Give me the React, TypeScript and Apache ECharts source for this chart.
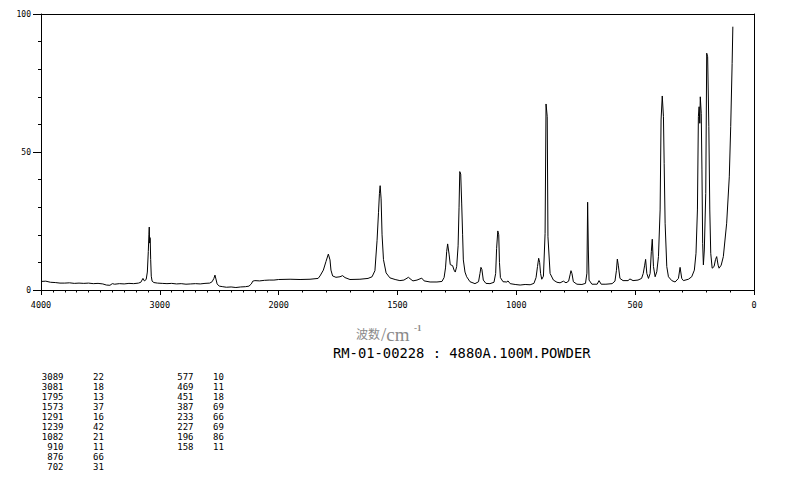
import React, { useEffect, useRef } from 'react';
import * as echarts from 'echarts';

// Spectrum, 4000–2000 cm-1 (compressed half of the axis)
const wnHigh = [4000, 3960, 3920, 3880, 3840, 3800, 3760, 3720, 3680, 3640, 3600, 3560, 3520, 3480, 3450, 3420, 3400, 3380, 3340, 3300, 3260, 3220, 3180, 3160, 3142, 3130, 3115, 3105, 3097, 3092, 3089, 3086, 3083, 3081, 3077, 3072, 3065, 3050, 3020, 2980, 2940, 2900, 2860, 2820, 2780, 2740, 2700, 2660, 2620, 2580, 2560, 2545, 2536, 2528, 2518, 2500, 2470, 2440, 2400, 2360, 2320, 2280, 2250, 2230, 2218, 2200, 2160, 2120, 2080, 2040, 2000];
const intHigh = [3.1, 3.2, 2.8, 2.7, 2.5, 2.5, 2.6, 2.4, 2.5, 2.4, 2.5, 2.3, 2.4, 2.2, 1.8, 1.7, 2.3, 2.1, 2.3, 2.2, 2.4, 2.3, 2.5, 2.8, 4.2, 3.3, 3.8, 6.5, 14, 20, 22.8, 17, 19, 18.5, 11, 5, 3.2, 2.7, 2.5, 2.4, 2.3, 2.4, 2.2, 2.3, 2.1, 2.2, 2.3, 2.2, 2.4, 2.5, 3.0, 4.2, 5.4, 4.0, 2.2, 1.4, 1.2, 1.0, 1.1, 0.9, 1.1, 1.2, 1.4, 2.2, 3.2, 3.4, 3.3, 3.5, 3.6, 3.6, 3.8];

// Spectrum, 2000–0 cm-1
const wnLow = [2000, 1952, 1910, 1868, 1834, 1826, 1812, 1801, 1791, 1784, 1780, 1773, 1759, 1742, 1731, 1721, 1700, 1658, 1624, 1607, 1595, 1586, 1580, 1576, 1573, 1569, 1565, 1559, 1548, 1532, 1510, 1490, 1473, 1454, 1443, 1435, 1418, 1398, 1388, 1363, 1334, 1313, 1304, 1298, 1293, 1289, 1283, 1278, 1268, 1262, 1257, 1251, 1245, 1241, 1238, 1234, 1230, 1226, 1223, 1216, 1209, 1195, 1174, 1159, 1153, 1149, 1145, 1139, 1128, 1111, 1094, 1087, 1083, 1078, 1074, 1071, 1067, 1056, 1040, 1035, 1026, 1005, 984, 963, 942, 926, 917, 911, 906, 902, 898, 893, 886, 879, 875, 870, 867, 858, 844, 829, 816, 802, 791, 780, 774, 770, 766, 760, 745, 724, 709, 703, 700, 697, 694, 682, 660, 652, 643, 623, 597, 585, 579, 575, 571, 564, 551, 530, 522, 509, 488, 473, 466, 460, 456, 451, 444, 437, 432, 428, 423, 416, 409, 402, 395, 391, 386, 381, 378, 374, 367, 360, 346, 332, 318, 311, 304, 297, 276, 262, 251, 244, 238, 234, 231, 228, 226, 222, 219, 216, 213, 209, 203, 199, 195, 190, 186, 182, 176, 168, 162, 157, 151, 147, 138, 129, 115, 104, 98, 92, 89];
const intLow = [3.8, 3.9, 3.8, 3.9, 4.2, 5.1, 7.2, 10.3, 13, 10.9, 7.2, 5.1, 4.6, 4.8, 5.2, 4.5, 3.8, 3.9, 4.2, 4.8, 7, 18, 28, 35, 37.8, 33, 20, 11, 6.2, 4.4, 3.8, 3.4, 3.6, 4.6, 3.8, 3.3, 3.6, 4.3, 3.3, 2.9, 2.9, 3.1, 4.5, 8, 14, 16.7, 13, 9.2, 8.8, 7.2, 6.5, 8.5, 16, 30, 42.9, 42, 31.5, 20, 10.9, 6.5, 4.8, 3, 2.3, 3, 6, 8.2, 7.5, 3.6, 2.4, 2.3, 2.8, 6, 15, 21.4, 20, 10, 4.5, 3, 2.9, 3.3, 2.3, 2.0, 1.8, 2.0, 1.9, 2.4, 4.5, 8.5, 11.5, 10, 6, 3.9, 5.0, 20.5, 67.4, 62.8, 19.3, 6, 3.6, 2.8, 2.6, 3.2, 2.6, 3.2, 5.5, 7, 6, 3, 2.1, 2.0, 2.4, 6.1, 31.8, 14.5, 3.6, 2.1, 2.1, 3.4, 2.1, 2.1, 2.3, 3.2, 7, 11.2, 9, 4.2, 3.4, 3.4, 4, 3.4, 3.6, 4.2, 6, 9, 11.1, 6, 4.2, 6, 14, 18.4, 8.5, 4.8, 6.6, 12.1, 29, 61.6, 70.3, 62.8, 45.9, 24.2, 8.5, 4.8, 3.4, 2.9, 4.2, 8.2, 4.2, 3.4, 3.9, 4.8, 7.2, 13.3, 29, 62.8, 66.4, 60.4, 70, 64, 43.5, 16.9, 9.1, 14.5, 35, 85.8, 84.5, 59.2, 29, 13.3, 7.9, 8.5, 11, 12.1, 9, 7.9, 9, 12.1, 24.2, 41, 59.2, 82.1, 95.4];

// Peak table
const peakWnA = [3089, 3081, 1795, 1573, 1291, 1239, 1082, 910, 876, 702];
const peakIntA = [22, 18, 13, 37, 16, 42, 21, 11, 66, 31];
const peakWnB = [577, 469, 451, 387, 233, 227, 196, 158];
const peakIntB = [10, 11, 18, 69, 66, 69, 86, 11];

const axisTitleCJK = '波数';
const axisTitleUnit = '/cm';
const axisTitleExp = '-1';
const sampleLabel = 'RM-01-00228 : 4880A.100M.POWDER';

const MONO = '"DejaVu Sans Mono", monospace';

export default function App() {
  const ref = useRef<HTMLDivElement>(null);
  useEffect(() => {
    const chart = echarts.init(ref.current!, null, { renderer: 'svg' });
    const black = '#000';
    const grey = '#8a8a8a';
    const baseX = (gridIndex: number, min: number, max: number, interval: number, split: number, hideMin: boolean) => ({
      type: 'value', gridIndex, min, max, interval, inverse: true, position: 'bottom',
      axisLine: { show: true, onZero: false, lineStyle: { color: black, width: 1 } },
      axisTick: { show: true, inside: false, length: 5, lineStyle: { color: black, width: 1 } },
      minorTick: { show: true, splitNumber: split, length: 2.5, lineStyle: { color: black, width: 1 } },
      axisLabel: { show: true, showMinLabel: !hideMin, margin: 10, color: black, fontFamily: MONO, fontSize: 8.5, formatter: (v: number) => String(v) },
      splitLine: { show: false }, minorSplitLine: { show: false },
    });
    const topX = (gridIndex: number, min: number, max: number) => ({
      type: 'value', gridIndex, min, max, inverse: true, position: 'top',
      axisLine: { show: true, onZero: false, lineStyle: { color: black, width: 1 } },
      axisTick: { show: false }, axisLabel: { show: false }, splitLine: { show: false },
    });
    const lineSeries = (idx: number, wn: number[], iv: number[]) => ({
      type: 'line', xAxisIndex: idx, yAxisIndex: idx,
      data: wn.map((w, i) => [w, iv[i]]),
      showSymbol: false, symbol: 'none', silent: true,
      lineStyle: { color: black, width: 1 },
    });
    const col = (vals: number[]) => vals.map(String).join('\n');
    const tableText = (x: number, vals: number[], align: string) => ({
      type: 'text', x, y: 372,
      style: { text: col(vals), font: `9px ${MONO}`, fill: black, textAlign: align, textVerticalAlign: 'top', lineHeight: 10 },
    });
    const option: any = {
      animation: false,
      backgroundColor: '#fff',
      grid: [
        { left: 41, top: 14, width: 237.67, height: 276, containLabel: false },
        { left: 278.67, top: 14, width: 475.33, height: 276, containLabel: false },
      ],
      xAxis: [
        baseX(0, 2000, 4000, 1000, 10, true),
        baseX(1, 0, 2000, 500, 5, false),
        topX(0, 2000, 4000),
        topX(1, 0, 2000),
      ],
      yAxis: [
        {
          type: 'value', gridIndex: 0, min: 0, max: 100, interval: 50, position: 'left',
          axisLine: { show: true, onZero: false, lineStyle: { color: black, width: 1 } },
          axisTick: { show: true, inside: false, length: 8, lineStyle: { color: black, width: 1 } },
          minorTick: { show: true, splitNumber: 5, length: 3, lineStyle: { color: black, width: 1 } },
          axisLabel: { show: true, margin: 10, color: black, fontFamily: MONO, fontSize: 8 },
          splitLine: { show: false }, minorSplitLine: { show: false },
        },
        {
          type: 'value', gridIndex: 1, min: 0, max: 100, position: 'right',
          axisLine: { show: true, onZero: false, lineStyle: { color: black, width: 1 } },
          axisTick: { show: false }, axisLabel: { show: false }, splitLine: { show: false },
        },
      ],
      series: [lineSeries(0, wnHigh, intHigh), lineSeries(1, wnLow, intLow)],
      graphic: [
        { type: 'text', x: 356, y: 333, style: { text: axisTitleCJK, font: '12px "Noto Sans CJK SC"', fill: grey, textAlign: 'left', textVerticalAlign: 'middle' } },
        { type: 'text', x: 381, y: 334, style: { text: axisTitleUnit, font: '19px "Liberation Serif"', fill: grey, textAlign: 'left', textVerticalAlign: 'middle' } },
        { type: 'text', x: 414, y: 328, style: { text: axisTitleExp, font: 'bold 9px "Liberation Serif"', fill: grey, textAlign: 'left', textVerticalAlign: 'middle' } },
        { type: 'text', x: 333, y: 352.5, style: { text: sampleLabel, font: `13.8px ${MONO}`, fill: black, textAlign: 'left', textVerticalAlign: 'middle' } },
        tableText(63.5, peakWnA, 'right'),
        tableText(93, peakIntA, 'left'),
        tableText(193.5, peakWnB, 'right'),
        tableText(213, peakIntB, 'left'),
      ],
    };
    chart.setOption(option);
    return () => chart.dispose();
  }, []);
  return <div ref={ref} style={{ position: 'fixed', left: 0, top: 0, width: 794, height: 482, background: '#fff' }} />;
}
